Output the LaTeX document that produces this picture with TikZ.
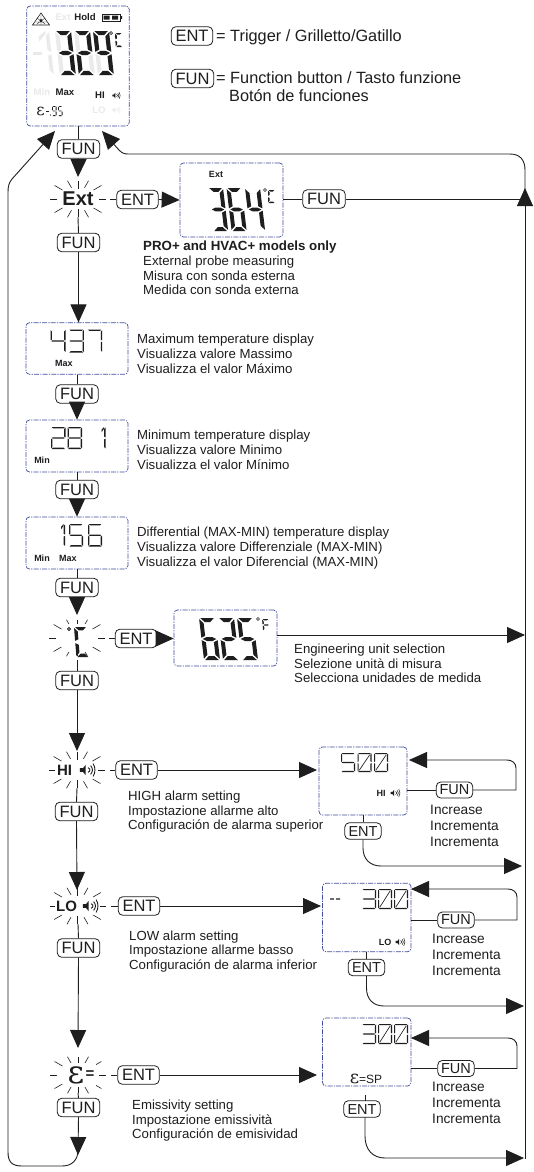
\documentclass[tikz,border=0pt]{standalone}
\usepackage{fontspec}
\setmainfont{Liberation Sans}
\newfontfamily\epsfont{DejaVu Serif}
\usetikzlibrary{arrows.meta,calc}
\definecolor{lcdblue}{HTML}{3F4C9E}
\definecolor{ink}{HTML}{1E1E1E}
\definecolor{ghost}{HTML}{EAEAEA}
\tikzset{
  x=1bp,y=-1bp,
  lcdbox/.style={draw=lcdblue,line width=0.7bp,rounded corners=3.5bp,dash pattern=on 5bp off 1.2bp on 1.2bp off 1.2bp,inner sep=0pt},
  btn/.style={draw=ink,line width=0.8bp,rounded corners=4.5bp,fill=white,text=ink,inner sep=0pt,font=\fontsize{16.5bp}{16.5bp}\selectfont},
  btns/.style={btn,font=\fontsize{14.5bp}{14.5bp}\selectfont},
  wire/.style={draw=ink,line width=0.9bp},
  flow/.style={wire,-{Triangle[length=18bp,width=16bp,fill=ink]}},
  desc/.style={anchor=base west,yshift=-4.3bp,inner sep=0pt,text=ink,font=\fontsize{13.2bp}{13.2bp}\selectfont},
  descb/.style={desc,font=\fontsize{13.3bp}{13.3bp}\selectfont\bfseries},
  inc/.style={anchor=base west,yshift=-4.5bp,inner sep=0pt,text=ink,font=\fontsize{13.7bp}{13.7bp}\selectfont},
  legend/.style={anchor=base west,yshift=-5.5bp,inner sep=0pt,text=ink,font=\fontsize{16.3bp}{16.3bp}\selectfont},
  lab/.style={inner sep=0pt,text=ink,font=\fontsize{9bp}{9bp}\selectfont\bfseries},
  labb/.style={inner sep=0pt,text=ink,font=\fontsize{9.6bp}{9.6bp}\selectfont\bfseries},
  flash/.style={inner sep=0pt,text=ink,font=\fontsize{15bp}{15bp}\selectfont\bfseries},
}
% seven-segment drawing: each segment is a tapered polygon in a W x H cell
\newcommand\segA{\fill (\sG,0)--(\sW-\sG,0)--(\sW-\sG-\sT,\sT)--(\sG+\sT,\sT)--cycle;}
\newcommand\segD{\fill (\sG,\sH)--(\sW-\sG,\sH)--(\sW-\sG-\sT,\sH-\sT)--(\sG+\sT,\sH-\sT)--cycle;}
\newcommand\segF{\fill (0,\sG)--(\sT,\sG+\sT)--(\sT,\sH/2-\sG-\sT/2)--(0,\sH/2-\sG)--cycle;}
\newcommand\segE{\fill (0,\sH/2+\sG)--(\sT,\sH/2+\sG+\sT/2)--(\sT,\sH-\sG-\sT)--(0,\sH-\sG)--cycle;}
\newcommand\segB{\fill (\sW,\sG)--(\sW-\sT,\sG+\sT)--(\sW-\sT,\sH/2-\sG-\sT/2)--(\sW,\sH/2-\sG)--cycle;}
\newcommand\segC{\fill (\sW,\sH/2+\sG)--(\sW-\sT,\sH/2+\sG+\sT/2)--(\sW-\sT,\sH-\sG-\sT)--(\sW,\sH-\sG)--cycle;}
\newcommand\segG{\fill (\sG,\sH/2)--(\sG+\sT,\sH/2-\sT/2)--(\sW-\sG-\sT,\sH/2-\sT/2)--(\sW-\sG,\sH/2)--(\sW-\sG-\sT,\sH/2+\sT/2)--(\sG+\sT,\sH/2+\sT/2)--cycle;}
\newcommand\segFlag{\fill (\sW-\sT-2*\sT,\sH*0.12)--(\sW-\sT-2*\sT,\sH*0.24)--(\sW-\sT,\sH*0.06)--(\sW-\sT,0)--cycle;}
\newcommand\segSlash{\draw[line width=0.6*\sT bp] (\sT+\sG,\sH-\sT-\sG)--(\sW-\sT-\sG,\sT+\sG);}
\expandafter\def\csname dig0\endcsname{\segA\segB\segC\segD\segE\segF}
\expandafter\def\csname digo\endcsname{\segA\segB\segC\segD\segE\segF\segSlash}
\expandafter\def\csname digC\endcsname{\segA\segD\segE\segF}
\expandafter\def\csname digF\endcsname{\segA\segE\segF\segG}
\expandafter\def\csname dig1\endcsname{\segB\segC\segFlag}
\expandafter\def\csname dig2\endcsname{\segA\segB\segG\segE\segD}
\expandafter\def\csname dig3\endcsname{\segA\segB\segG\segC\segD}
\expandafter\def\csname dig4\endcsname{\segF\segG\segB\segC}
\expandafter\def\csname dig5\endcsname{\segA\segF\segG\segC\segD}
\expandafter\def\csname dig6\endcsname{\segA\segF\segG\segC\segD\segE}
\expandafter\def\csname dig7\endcsname{\segA\segB\segC}
\expandafter\def\csname dig8\endcsname{\segA\segB\segC\segD\segE\segF\segG}
\expandafter\def\csname dig9\endcsname{\segA\segB\segC\segD\segF\segG}
% \lcdnum{x}{y}{w}{h}{thick}{pitch}{slant}{colour}{digits}
\newcommand\lcdnum[9]{%
  \foreach \dg [count=\dn from 0] in {#9}{%
    \begin{scope}[shift={(#1+\dn*#6,#2)},xslant=#7,fill=#8,draw=#8]
      \def\sW{#3}\def\sH{#4}\def\sT{#5}\pgfmathsetmacro\sG{0.2*#5+0.4}%
      \csname dig\dg\endcsname
    \end{scope}}}
% burst of rays round a flashing symbol: \rays{name}{x}{y}
\newcommand\rays[3]{%
  \coordinate (#1) at (#2,#3);
  \foreach \ang/\ri/\ro in {90/10/18,270/10/18,60/13/21,120/13/21,240/13/21,300/13/21,30/18/27,150/18/27,210/18/27,330/18/27,0/21/28,180/21/28}{
    \draw[draw=ink,line width=0.6bp] ($(#1)+(\ang:\ri)$)--($(#1)+(\ang:\ro)$);}}
% speaker icon: x y scale colour
\newcommand\speaker[4]{%
  \begin{scope}[shift={(#1,#2)},scale=#3]
    \fill[#4] (-3.4,-0.9)--(-1.9,-0.9)--(-0.6,-2.5)--(-0.6,2.5)--(-1.9,0.9)--(-3.4,0.9)--cycle;
    \foreach \rr in {1.4,2.6,3.8}{\draw[#4,line width=#3*0.42bp] (\rr-0.9,-\rr*0.8) .. controls (\rr+0.3,-\rr*0.3) and (\rr+0.3,\rr*0.3) .. (\rr-0.9,\rr*0.8);}
  \end{scope}}
\newcommand\fun[3]{\node[btn,minimum width=42.5bp,minimum height=18.5bp] (#1) at (#2,#3) {FUN};}
\newcommand\ent[3]{\node[btn,minimum width=41.5bp,minimum height=18.5bp] (#1) at (#2,#3) {ENT};}
\newcommand\funs[3]{\node[btns,minimum width=36.5bp,minimum height=16bp] (#1) at (#2,#3) {FUN};}
\newcommand\ents[3]{\node[btns,minimum width=36.5bp,minimum height=16.5bp] (#1) at (#2,#3) {ENT};}
\newcommand\degmark[3]{\draw[ink,line width=#3] (#1,#2) circle (1.5bp);}
\begin{document}
\begin{tikzpicture}
\useasboundingbox (0,0) rectangle (534,1172);
\fill[white] (0,0) rectangle (534,1172);

% display frames
\node[lcdbox,minimum width=102.5bp,minimum height=120bp] (main) at (78,66) {};
\node[lcdbox,minimum width=103bp,minimum height=74bp] (dExt) at (231.5,200) {};
\node[lcdbox,minimum width=102bp,minimum height=51.5bp] (dMax) at (77,348.5) {};
\node[lcdbox,minimum width=102bp,minimum height=52bp] (dMin) at (77,446) {};
\node[lcdbox,minimum width=102bp,minimum height=52bp] (dDif) at (77,543) {};
\node[lcdbox,minimum width=103bp,minimum height=56bp] (dUnit) at (225.5,638) {};
\node[lcdbox,minimum width=88bp,minimum height=68bp] (dHi) at (363,781) {};
\node[lcdbox,minimum width=88.5bp,minimum height=68.5bp] (dLo) at (366.8,917.5) {};
\node[lcdbox,minimum width=88.5bp,minimum height=68bp] (dEm) at (366.8,1052) {};

% buttons
\ent{kEnt}{192}{36}
\fun{kFun}{192.5}{78.5}
\fun{f0}{78.5}{149}
\ent{eExt}{137.5}{199.5}
\fun{f1x}{324}{199}
\fun{f1}{78.5}{242.5}
\fun{f2}{77}{394}
\fun{f3}{77}{489.5}
\fun{f4}{77}{587.5}
\ent{eUnit}{136}{638.5}
\fun{f5}{77}{680.5}
\ent{eHi}{136.5}{770}
\fun{f6}{76.5}{811.5}
\ent{eLo}{139}{906}
\fun{f7}{78.5}{948}
\ent{eEm}{138.5}{1075}
\fun{f8}{78.5}{1107.5}
\funs{fHi}{454.5}{790}
\ents{xHi}{363}{831}
\funs{fLo}{456}{920}
\ents{xLo}{366.5}{967.5}
\funs{fEm}{456}{1068.5}
\ents{xEm}{362}{1109}

% legend text
\node[legend] at (216,36) {= Trigger / Grilletto/Gatillo};
\node[legend] at (216,78) {= Function button / Tasto funzione};
\node[legend] at (229,95.5) {Botón de funciones};

% rays and flashing symbols
\rays{sExt}{78}{199}
\rays{sUnit}{77}{638}
\rays{sHi}{77}{770}
\rays{sLo}{77.5}{906}
\rays{sEm}{78}{1075}
\node[fill=white,inner sep=0.5pt,text=ink,font=\fontsize{20bp}{20bp}\selectfont\bfseries] (tExt) at (78,199) {Ext};
\fill[white] (64,624) rectangle (90,652);
\degmark{69}{629}{0.8bp}
\lcdnum{74}{627}{13}{30}{3.4}{0}{-0.08}{ink}{C}
\fill[white] (55,762) rectangle (98,778);
\node[flash] (tHi) at (64.5,770.5) {HI};
\speaker{87}{770}{2.1}{ink}
\fill[white] (55,898) rectangle (100,914);
\node[flash] (tLo) at (66.5,906.5) {LO};
\speaker{90}{906}{2.1}{ink}
\fill[white] (66,1063) rectangle (96,1087);
\node[text=ink,inner sep=0pt,font=\fontsize{32bp}{32bp}\epsfont] (tEp) at (76,1075) {ɛ};
\node[flash] (tEq) at (90,1075) {=};

% connectors
\coordinate (mainL) at (55,131);
\coordinate (mainR) at (102,131);
\draw[wire] (main.south-|f0)--(f0.north);
\draw[flow] (f0.south)--(78,177);
\draw[flow] (f8.south)--(78,1155);
\draw[flow] (78,1150) .. controls (78,1160) and (72,1166) .. (62,1166)--(22,1166) .. controls (12,1166) and (8,1162) .. (8,1152)--(8,192) .. controls (8,186) and (9,183) .. (12,179)--(mainL);
\draw[flow] (525,1159)--(525,188);
\draw[flow] (525,190)--(525,170) .. controls (525,160) and (520,154) .. (510,154)--(128,154) .. controls (124,154) and (122,153) .. (119,150)--(mainR);
\draw[wire] (78,217)--(f1.north);
\draw[wire] (110,199.5)--(eExt.west);
\draw[flow] (eExt.east)--(dExt.west);
\draw[wire] (dExt.east|-f1x)--(f1x.west);
\draw[wire] (f1x.east)--(525,199);
\draw[flow] (f1.south)--(dMax.north-|f1);
\draw[wire] (dMax.south)--(f2.north);
\draw[flow] (f2.south)--(dMin.north);
\draw[wire] (dMin.south)--(f3.north);
\draw[flow] (f3.south)--(dDif.north);
\draw[wire] (dDif.south)--(f4.north);
\draw[flow] (f4.south)--(77,615);
\draw[wire] (109,638.5)--(eUnit.west);
\draw[flow] (eUnit.east)--(dUnit.west|-eUnit);
\draw[wire] (77,660)--(f5.north);
\draw[flow] (f5.south)--(77,751);
\draw[flow] (dUnit.east|-0,635)--(525,635);
\draw[wire] (110,770)--(eHi.west);
\draw[flow] (eHi.east)--(317,770);
\draw[wire] (77,788)--(f6.north);
\draw[flow] (f6.south)--(77,890);
\draw[wire] (111,906)--(eLo.west);
\draw[flow] (eLo.east)--(321,906);
\draw[wire] (78,924)--(f7.north);
\draw[flow] (f7.south)--(78,1048);
\draw[wire] (111,1075)--(eEm.west);
\draw[flow] (eEm.east)--(317,1075);
\draw[wire] (78,1093)--(f8.north);
% setting loops
\draw[wire] (dHi.east|-fHi)--(fHi.west);
\draw[flow] (fHi.east)--(516,790)--(516,768) .. controls (516,763) and (512,760) .. (507,760)--(409,760);
\draw[wire] (dHi.south)--(xHi.north);
\draw[flow] (xHi.south)--(363,848) .. controls (363,859) and (370,866) .. (381,866)--(522,866);
\draw[wire] (dLo.east|-fLo)--(fLo.west);
\draw[flow] (fLo.east)--(517,920)--(517,897) .. controls (517,892) and (513,889) .. (508,889)--(411,889);
\draw[wire] (dLo.south-|xLo)--(xLo.north);
\draw[flow] (xLo.south)--(366.5,988) .. controls (366.5,999) and (373,1006) .. (384,1006)--(524,1006);
\draw[wire] (dEm.east|-fEm)--(fEm.west);
\draw[flow] (fEm.east)--(517,1068.5)--(517,1046) .. controls (517,1041) and (513,1038) .. (508,1038)--(411,1038);
\draw[wire] (365,1095)--(365,1100.5);
\draw[flow] (365,1117.2)--(365,1136) .. controls (365,1150) and (373,1158) .. (385,1158)--(524,1158);

% main display contents
\draw[ink,fill=white,line width=0.6bp] (41,13)--(49.5,25)--(32.5,25)--cycle;
\fill[ink] (41,20.5) circle (1.7bp);
\draw[ink,line width=0.35bp] (41,15)--(41,25) (35,22)--(47,22) (37,18)--(45,24) (45,18)--(37,24);
\node[labb,text=ghost] (lExt0) at (63,17) {Ext};
\node[labb] (lHold) at (85,17) {Hold};
\draw[ink,line width=0.8bp] (102,14)--(120,14)--(120,21)--(102,21)--cycle;
\fill[ink] (103.5,15.5) rectangle (109.5,19.5) (112,15.5) rectangle (118,19.5) (120.5,16) rectangle (122,19);
\lcdnum{55}{31}{16}{44}{4.2}{19}{-0.11}{ghost}{8,8,8}
\fill[ghost] (33,52) rectangle (42,55);
\lcdnum{39}{31}{10}{44}{3.6}{0}{-0.11}{ghost}{1}
\lcdnum{55}{31}{16}{44}{4.2}{19}{-0.11}{ink}{3,2,9}
\fill[ink] (87,73) circle (1.4bp);
\degmark{111}{33}{0.7bp}
\lcdnum{115}{33}{7}{14}{1.6}{0}{-0.05}{ink}{C}
\node[labb,text=ghost] (lMin0) at (42,92) {Min};
\node[labb] (lMax0) at (65,92) {Max};
\node[labb] (lHI0) at (100,95.5) {HI};
\speaker{116}{95.5}{1.1}{ink}
\node[text=ink,inner sep=0pt,font=\fontsize{16bp}{16bp}\epsfont] (lE0) at (40.5,111) {ɛ};
\fill[ink] (46,110.5) rectangle (49,111.5);
\lcdnum{52}{106}{4.5}{10}{0.9}{6}{0}{ink}{9,5}
\fill[ink] (50.5,115) circle (0.6bp);
\node[labb,text=ghost] (lLO0) at (99,110) {LO};
\speaker{116}{110}{1.1}{ghost}

% Ext display
\node[lab] (lExt) at (216,174) {Ext};
\lcdnum{208}{188}{15}{43}{3.9}{18.5}{-0.12}{ink}{3,6,4}
\degmark{265}{190}{0.6bp}
\lcdnum{268}{190}{7}{13}{1.5}{0}{0}{ink}{C}
\node[descb] at (143,246.5) {PRO+ and HVAC+ models only};
\node[desc] at (143,261.5) {External probe measuring};
\node[desc] at (143,276.2) {Misura con sonda esterna};
\node[desc] at (143,290.5) {Medida con sonda externa};

% Max
\lcdnum{50.5}{329.5}{15}{23}{1.3}{18.3}{0}{ink}{4,3,7}
\node[lab] (lMax) at (64,363) {Max};
\node[desc] at (137,339) {Maximum temperature display};
\node[desc] at (137,354.5) {Visualizza valore Massimo};
\node[desc] at (137,369) {Visualizza el valor Máximo};
% Min
\lcdnum{51}{427}{14.5}{22}{1.3}{16.5}{0}{ink}{2,8}
\lcdnum{91}{427}{14.5}{22}{1.3}{0}{0}{ink}{1}
\node[lab] (lMin) at (42,460.5) {Min};
\node[desc] at (137,435) {Minimum temperature display};
\node[desc] at (137,450.5) {Visualizza valore Minimo};
\node[desc] at (137,465) {Visualizza el valor Mínimo};
% Diff
\lcdnum{52}{524}{13}{22.5}{1.3}{0}{0}{ink}{1}
\lcdnum{69}{524}{14}{22.5}{1.3}{19}{0}{ink}{5,6}
\node[lab] (lMin2) at (42,558) {Min};
\node[lab] (lMax2) at (68,558) {Max};
\node[desc] at (137,532) {Differential (MAX-MIN) temperature display};
\node[desc] at (137,547) {Visualizza valore Differenziale (MAX-MIN)};
\node[desc] at (137,562) {Visualizza el valor Diferencial (MAX-MIN)};
% Unit
\lcdnum{199}{618}{16}{42}{4}{19}{-0.12}{ink}{6,2,5}
\degmark{258}{619}{0.6bp}
\lcdnum{262}{619}{7}{12}{1.4}{0}{-0.1}{ink}{F}
\node[desc] at (294,649.5) {Engineering unit selection};
\node[desc] at (294,664) {Selezione unità di misura};
\node[desc] at (294,678) {Selecciona unidades de medida};
% HI
\lcdnum{341}{753}{14}{19}{1.1}{16.5}{0}{ink}{5,o,o}
\node[lab] (lHI) at (381,793) {HI};
\speaker{395}{793}{1.3}{ink}
\node[desc] at (128,796) {HIGH alarm setting};
\node[desc] at (128,810.7) {Impostazione allarme alto};
\node[desc] at (128,825.5) {Configuración de alarma superior};
\node[inc] at (430,809.5) {Increase};
\node[inc] at (430,825.5) {Incrementa};
\node[inc] at (430,841.5) {Incrementa};
% LO
\fill[ink] (330,898.4) rectangle (334,899.6) (336,898.4) rectangle (340,899.6);
\lcdnum{362}{889}{14}{20}{1.1}{16}{0}{ink}{3,o,o}
\node[lab] (lLO) at (385,942) {LO};
\speaker{400}{942}{1.3}{ink}
\node[desc] at (129,936) {LOW alarm setting};
\node[desc] at (129,950.5) {Impostazione allarme basso};
\node[desc] at (129,965) {Configuración de alarma inferior};
\node[inc] at (432,939) {Increase};
\node[inc] at (432,954.5) {Incrementa};
\node[inc] at (432,970.5) {Incrementa};
% Emissivity
\lcdnum{362}{1024}{14}{20}{1.1}{16}{0}{ink}{3,o,o}
\node[text=ink,inner sep=0pt,font=\fontsize{12bp}{12bp}\selectfont] (lSP) at (366,1079) {{\fontsize{18bp}{18bp}\epsfont ɛ}=SP};
\node[desc] at (132,1105) {Emissivity setting};
\node[desc] at (132,1120) {Impostazione emissività};
\node[desc] at (132,1134.5) {Configuración de emisividad};
\node[inc] at (432,1087) {Increase};
\node[inc] at (432,1103) {Incrementa};
\node[inc] at (432,1119) {Incrementa};
\end{tikzpicture}
\end{document}
